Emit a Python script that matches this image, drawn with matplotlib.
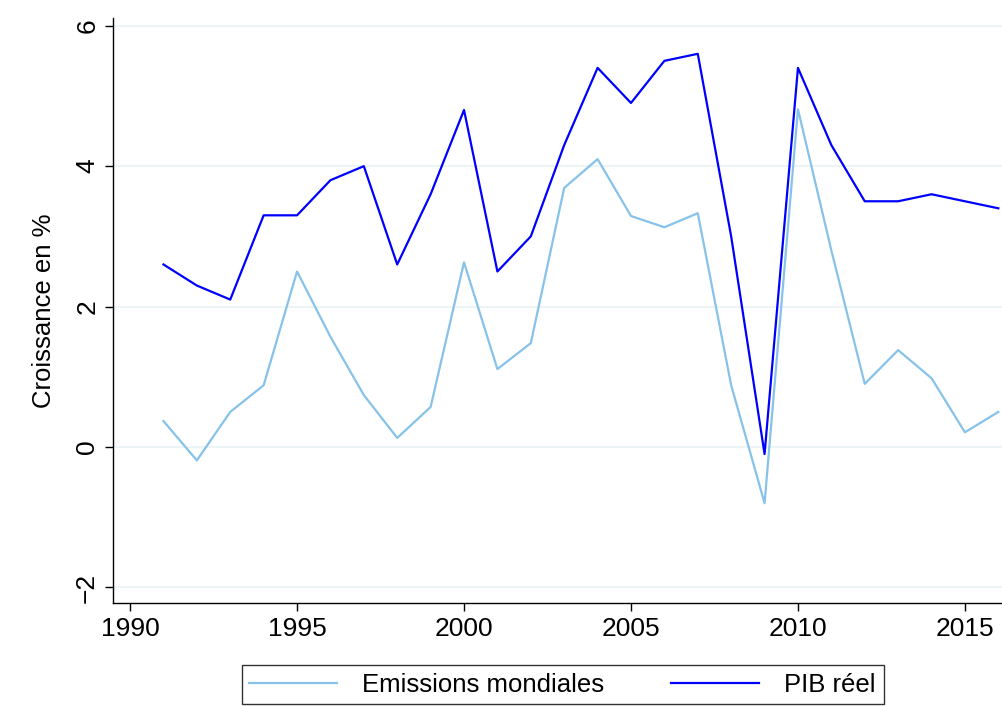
import matplotlib
matplotlib.use("Agg")
import matplotlib.pyplot as plt

years = list(range(1991, 2017))
emissions = [0.37, -0.19, 0.50, 0.88, 2.50, 1.57, 0.74, 0.13, 0.57, 2.63,
             1.11, 1.48, 3.69, 4.10, 3.29, 3.13, 3.33, 0.88, -0.80, 4.81,
             2.80, 0.90, 1.38, 0.98, 0.21, 0.50]
pib = [2.6, 2.3, 2.1, 3.3, 3.3, 3.8, 4.0, 2.6, 3.6, 4.8,
       2.5, 3.0, 4.3, 5.4, 4.9, 5.5, 5.6, 3.0, -0.1, 5.4,
       4.3, 3.5, 3.5, 3.6, 3.5, 3.4]
xticks = [1990, 1995, 2000, 2005, 2010, 2015]
yticks = [-2, 0, 2, 4, 6]

plt.rcParams['font.family'] = ['Liberation Sans', 'DejaVu Sans']

fig = plt.figure(figsize=(10.03, 7.06), dpi=100)
ax = fig.add_axes([0.1127, 0.146, 0.8873, 0.8285])

ax.plot(years, emissions, color='#86c2ea', lw=1.6, label='Emissions mondiales')
ax.plot(years, pib, color='#0000ff', lw=1.6, label='PIB réel')

ax.set_xlim(1989.49, 2016.14)
ax.set_ylim(-2.22, 6.11)
ax.set_xticks(xticks)
ax.set_yticks(yticks)
ax.set_yticklabels(['\u22122', '0', '2', '4', '6'], rotation=90, va='center')
ax.tick_params(axis='both', labelsize=19, length=6, width=1, direction='out', pad=4)
ax.grid(axis='y', color='#eaf2f3', lw=1.2)
ax.set_axisbelow(True)
for s in ['top', 'right']:
    ax.spines[s].set_visible(False)
for s in ['left', 'bottom']:
    ax.spines[s].set_linewidth(1.0)
ax.set_ylabel('Croissance en %', fontsize=18.5, labelpad=14)

leg = fig.legend(loc='upper center', bbox_to_anchor=(0.561, 0.058), ncol=2,
                 fontsize=18.5, frameon=True, fancybox=False, edgecolor='black',
                 handlelength=3.4, handletextpad=1.0, columnspacing=2.6,
                 borderpad=0.3, borderaxespad=0)
leg.get_frame().set_linewidth(1.0)

fig.savefig('out.png', dpi=100)
